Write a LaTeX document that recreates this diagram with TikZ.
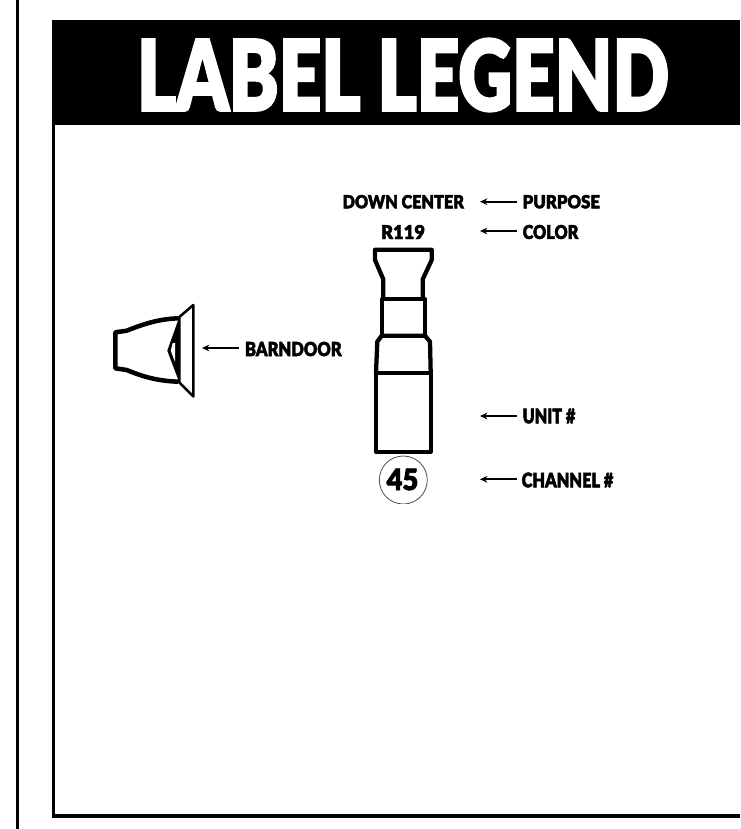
\documentclass[tikz,border=0pt]{standalone}
\usepackage{fontspec}
\usetikzlibrary{arrows.meta}
\newfontfamily\blk{Lato Black}[FakeBold=2.5]
\newcommand{\fit}[3]{\resizebox{#1pt}{#2pt}{\blk #3}}
\tikzset{
  lab/.style={inner sep=0pt,outer sep=0pt,anchor=center},
  thick line/.style={line width=3.2pt,line join=round,draw=black},
  ptr/.style={line width=1.4pt,-{Stealth[length=5.5pt,width=5pt]}}
}
\begin{document}
\begin{tikzpicture}[x=0.75pt,y=-0.75pt]
\useasboundingbox (0,0) rectangle (740,829);
\fill[white] (0,0) rectangle (740,829);
\coordinate (L1) at (17.5,0); \coordinate (L2) at (17.5,829);
\draw[line width=2.3pt] (L1) -- (L2);
\fill[black] (52,20) rectangle (740,125);
\draw[line width=2.8pt] (53.5,125) -- (53.5,816) -- (740,816);
\node[lab,text=white] (title) at (403,75) {\fit{399}{54}{LABEL LEGEND}};
\node[lab] (down) at (403.3,201.7) {\fit{91}{10}{DOWN CENTER}};
\node[lab] (r119) at (403,232) {\fit{33}{10.5}{R119}};
\node[lab] (purpose) at (561.3,201.7) {\fit{58}{10}{PURPOSE}};
\node[lab] (color) at (550.5,232) {\fit{41.7}{10.5}{COLOR}};
\node[lab] (unit) at (549,416) {\fit{39.5}{11}{UNIT \#}};
\node[lab] (channel) at (567.5,480) {\fit{68.7}{11}{CHANNEL \#}};
\node[lab] (barn) at (293.3,349) {\fit{72.5}{10.7}{BARNDOOR}};
\node[lab] (num) at (402.5,479.5) {\fit{23.7}{16}{45}};
\coordinate (tp) at (480,201.7); \coordinate (tc) at (480,231); \coordinate (tu) at (480,416); \coordinate (tn) at (480,479.3); \coordinate (tb) at (202,348);
\draw[ptr] (517,201.7) -- (tp);
\draw[ptr] (517,231) -- (tc);
\draw[ptr] (517,416) -- (tu);
\draw[ptr] (517,479.3) -- (tn);
\draw[ptr] (239,348) -- (tb);
% unit
\draw[thick line] (383.3,298.3) -- (383.3,279.3) -- (375,260) -- (375,249.7) -- (431.7,249.7) -- (431.7,260) -- (422.7,279.3) -- (422.7,298.3);
\draw[thick line] (381.7,335.7) -- (381.7,299.3) -- (425,299.3) -- (425,335.7);
\draw[thick line] (376,372.7) -- (377.3,341.7) -- (381.7,335.7) -- (425,335.7) -- (430,341.7) -- (430.7,372.7);
\draw[thick line] (376,372.7) rectangle (430.7,451.7);
\begin{scope}
\clip (370,450) rectangle (440,503);
\draw[line width=0.6pt,draw=black!70] (403.3,480) circle (24);
\end{scope}
% barndoor
\draw[thick line,line width=3.4pt] (178.3,318.3) .. controls (160,319) and (146,323) .. (126.7,330.7) -- (115.3,332.3) -- (115.3,368.3) -- (126.7,370) .. controls (146,378) and (160,381) .. (178.3,381.7);
\draw[line width=1.9pt,line join=round] (179.3,317) -- (193.3,305) -- (193.3,396.5) -- (179.3,382.5) -- cycle;
\fill[black] (179.3,317) -- (167.3,350.7) -- (179.3,382.5) -- cycle;
\fill[white] (172.7,343) -- (170.7,350.7) -- (175,361.7) -- (175,343) -- cycle;
\end{tikzpicture}
\end{document}
